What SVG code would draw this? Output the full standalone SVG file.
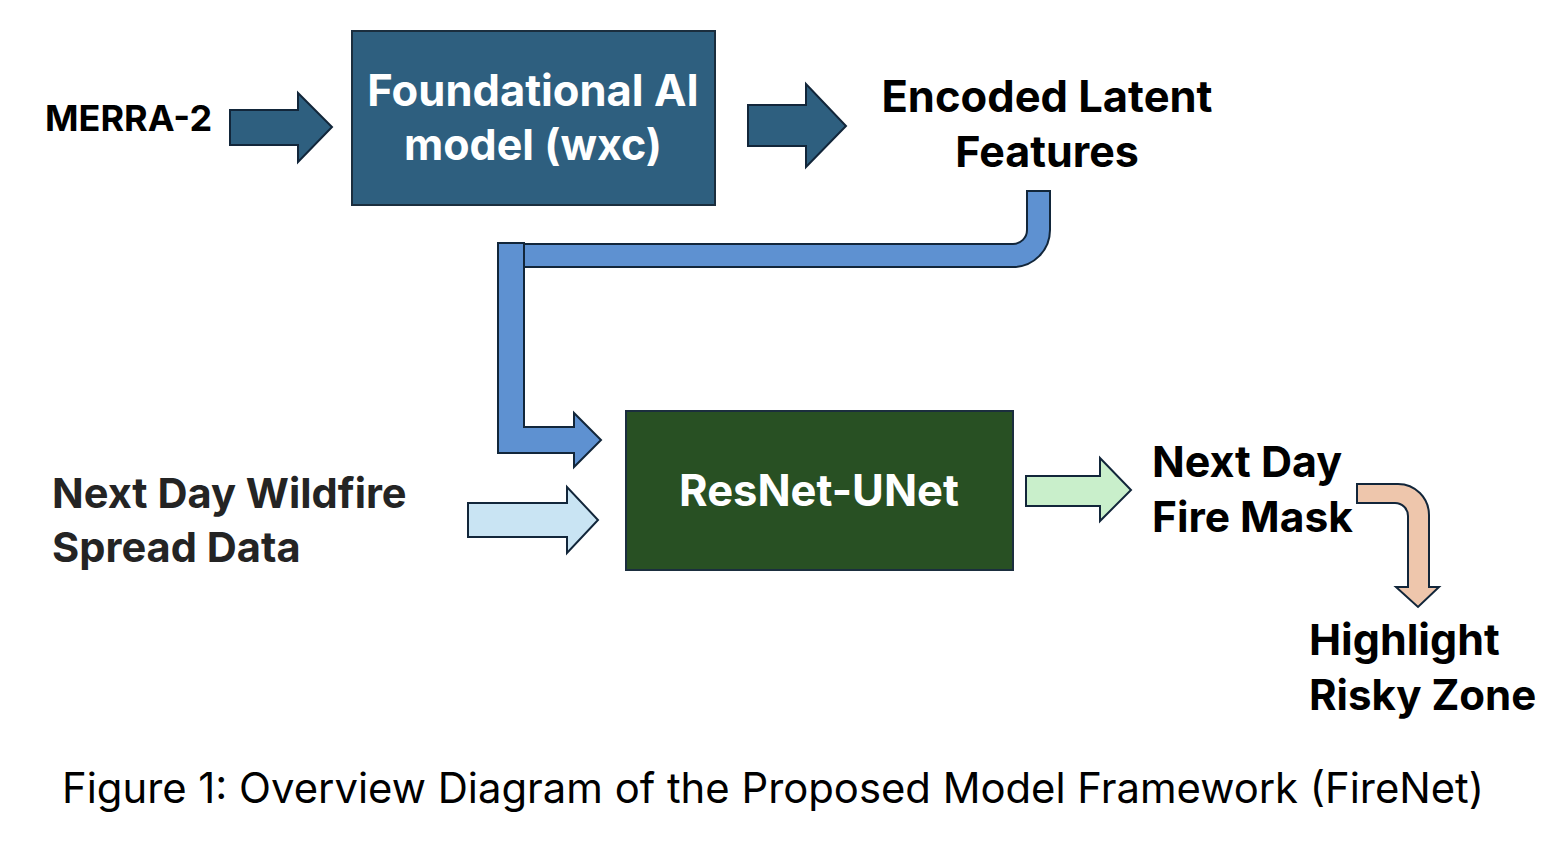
<svg xmlns="http://www.w3.org/2000/svg" width="1546" height="856" viewBox="0 0 1546 856">
<style>
.t{font-family:Inter,"Liberation Sans",sans-serif;font-weight:700;font-size:43px;fill:#000}
.w{fill:#fff}
.g{fill:#242424;font-size:41.6px}
.cap{font-family:Inter,"Liberation Sans",sans-serif;font-weight:400;font-size:41.8px;fill:#000}
.arr{stroke:#12263a;stroke-width:2;stroke-linejoin:miter}
</style>
<rect width="1546" height="856" fill="#fff"/>
<g id="merra"><text class="t" x="45" y="131" style="font-size:36px">MERRA-2</text></g>
<g id="foundational">
<rect x="352" y="31" width="363" height="174" fill="#2E5F7F" stroke="#1B2E3E" stroke-width="2"/>
<text class="t w" x="533" y="106" text-anchor="middle" style="font-size:43.5px">Foundational AI</text>
<text class="t w" x="533" y="160" text-anchor="middle">model (wxc)</text>
</g>
<g id="encoded">
<text class="t" x="1047" y="112" text-anchor="middle" style="font-size:43.5px">Encoded Latent</text>
<text class="t" x="1047" y="167" text-anchor="middle">Features</text>
</g>
<g id="wildfire">
<text class="t g" x="52" y="508">Next Day Wildfire</text>
<text class="t g" x="52" y="562">Spread Data</text>
</g>
<g id="resnet">
<rect x="626" y="411" width="387" height="159" fill="#285023" stroke="#1B2E3E" stroke-width="2"/>
<text class="t w" x="819" y="506" text-anchor="middle" style="font-size:43.5px">ResNet-UNet</text>
</g>
<g id="firemask">
<text class="t" x="1152" y="477">Next Day</text>
<text class="t" x="1152" y="532" style="font-size:42.5px">Fire Mask</text>
</g>
<g id="highlight">
<text class="t" x="1309" y="655">Highlight</text>
<text class="t" x="1309" y="710" style="font-size:42px">Risky Zone</text>
</g>
<g id="connectors">
<path class="arr" fill="#2E5F7F" d="M230,110 H298 V93 L332,127 L298,162 V145 H230 Z"/>
<path class="arr" fill="#2E5F7F" d="M748,105 H806 V84 L846,126 L806,167 V146 H748 Z"/>
<path class="arr" fill="#5E91D1" d="M524,244 H1013 A14,14 0 0 0 1027,230 V191 H1050 V230 A37,37 0 0 1 1013,267 H524 Z"/>
<path class="arr" fill="#5E91D1" d="M498,243 H524 V427 H574 V413 L601,440 L574,467 V453 H498 Z"/>
<path class="arr" fill="#C9E4F3" d="M468,503 H567 V487 L598,520 L567,553 V537 H468 Z"/>
<path class="arr" fill="#C9EFCB" d="M1026,476 H1100 V458 L1131,490 L1100,521 V506 H1026 Z"/>
<path class="arr" fill="#EEC6AC" d="M1357,484 H1398 A31,31 0 0 1 1429,515 V587 H1439 L1418,607 L1396,587 H1408 V516 A13,13 0 0 0 1395,503 H1357 Z"/>
</g>
<g id="caption"><text class="cap" x="62" y="803">Figure 1: Overview Diagram of the Proposed Model Framework (FireNet)</text></g>
</svg>
